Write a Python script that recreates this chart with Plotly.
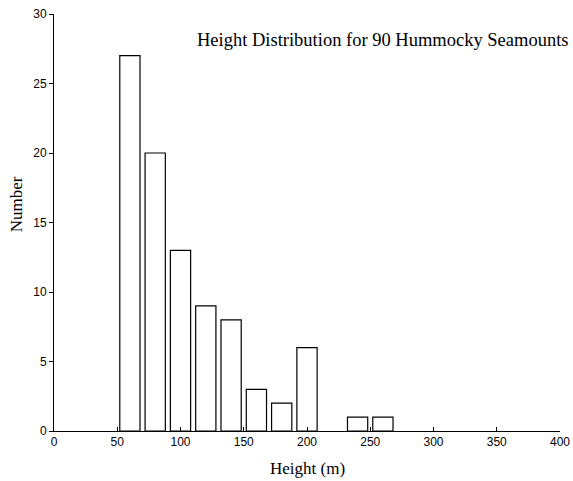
import plotly.graph_objects as go

heights = [60, 80, 100, 120, 140, 160, 180, 200, 240, 260]
counts = [27, 20, 13, 9, 8, 3, 2, 6, 1, 1]
x_ticks = [0, 50, 100, 150, 200, 250, 300, 350, 400]
y_ticks = [0, 5, 10, 15, 20, 25, 30]

fig = go.Figure()
fig.add_trace(go.Bar(
    x=heights, y=counts, width=16,
    marker=dict(color="white", line=dict(color="black", width=1.2)),
))

tick_font = dict(family="Liberation Sans, Arial, sans-serif", size=12, color="black")
serif = "Liberation Serif, DejaVu Serif, serif"

fig.update_layout(
    width=573, height=481,
    margin=dict(l=54, r=13, t=14, b=50),
    paper_bgcolor="white", plot_bgcolor="white",
    showlegend=False,
    xaxis=dict(
        range=[0, 400], tickvals=x_ticks, ticks="inside", ticklen=4,
        tickcolor="black", showline=True, linecolor="black", linewidth=1,
        showgrid=False, zeroline=False, tickfont=tick_font, automargin=False,
        ticklabeloverflow="allow",
    ),
    yaxis=dict(
        range=[0, 30], tickvals=y_ticks, ticks="outside", ticklen=4,
        tickcolor="black", showline=True, linecolor="black", linewidth=1,
        showgrid=False, zeroline=False, tickfont=tick_font, automargin=False,
        ticklabeloverflow="allow",
    ),
    annotations=[
        dict(text="Height Distribution for 90 Hummocky Seamounts",
             xref="paper", yref="paper", x=1.022, y=0.938, xanchor="right", yanchor="middle",
             showarrow=False, font=dict(family=serif, size=18.5, color="black")),
        dict(text="Number", xref="paper", yref="paper", x=-0.075, y=0.544,
             xanchor="center", yanchor="middle", textangle=-90,
             showarrow=False, font=dict(family=serif, size=17, color="black")),
        dict(text="Height (m)", xref="paper", yref="paper", x=0.5, y=-0.091,
             xanchor="center", yanchor="middle",
             showarrow=False, font=dict(family=serif, size=17, color="black")),
    ],
)

fig.write_html("out.html", config={"displayModeBar": False},
               post_script="document.body.style.margin='0';")
